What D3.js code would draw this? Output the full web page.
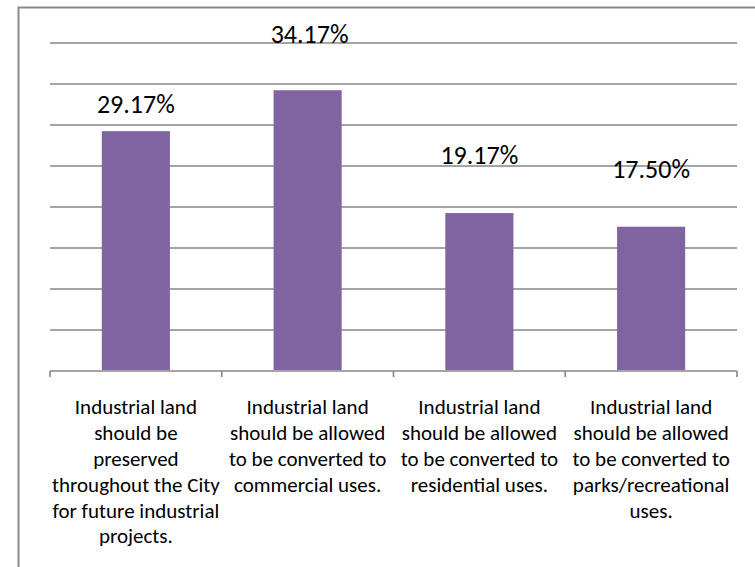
<!DOCTYPE html>
<html>
<head>
<meta charset="utf-8">
<script src="https://cdn.jsdelivr.net/npm/d3@7/dist/d3.min.js"></script>
<style>
  html, body { margin: 0; padding: 0; background: #fff; }
  svg { display: block; }
  text { font-family: Calibri, Carlito, Lato, "Open Sans", sans-serif; fill: #000; }
</style>
</head>
<body>
<svg id="chart" width="755" height="567"></svg>
<script>
// ---- data ----
const categories = [
  ["Industrial land", "should be", "preserved", "throughout the City", "for future industrial", "projects."],
  ["Industrial land", "should be allowed", "to be converted to", "commercial uses."],
  ["Industrial land", "should be allowed", "to be converted to", "residential uses."],
  ["Industrial land", "should be allowed", "to be converted to", "parks/recreational", "uses."]
];
const values = [29.17, 34.17, 19.17, 17.50];
const valueLabels = ["29.17%", "34.17%", "19.17%", "17.50%"];
const yTicks = [0, 5, 10, 15, 20, 25, 30, 35, 40];

// ---- layout ----
const svg = d3.select("#chart");
const margin = { left: 50, right: 18, top: 42.5, bottom: 197 };
const W = 755, H = 567;
const plotW = W - margin.left - margin.right;
const plotH = H - margin.top - margin.bottom;

// chart border (extends beyond the visible window on right/bottom)
svg.append("rect")
  .attr("x", 18.5).attr("y", 7.5)
  .attr("width", 800).attr("height", 600)
  .attr("fill", "none").attr("stroke", "#8a8a8a").attr("stroke-width", 2);

const g = svg.append("g").attr("transform", `translate(${margin.left},${margin.top})`);

const x = d3.scaleBand().domain(d3.range(values.length)).range([0, plotW]).paddingInner(0.6035).paddingOuter(0.30175);
const xOuter = d3.scaleBand().domain(d3.range(values.length)).range([0, plotW]);
const y = d3.scaleLinear().domain([0, 40]).range([plotH, 0]);

// gridlines
g.append("g").selectAll("line").data(yTicks.filter(t => t > 0)).join("line")
  .attr("x1", 0).attr("x2", plotW)
  .attr("y1", d => Math.round(y(d)) + 0.5).attr("y2", d => Math.round(y(d)) + 0.5)
  .attr("stroke", "#868686").attr("stroke-width", 1.3);

// bars
g.append("g").selectAll("rect").data(values).join("rect")
  .attr("x", (d, i) => x(i)).attr("width", x.bandwidth())
  .attr("y", d => y(d)).attr("height", d => plotH - y(d))
  .attr("fill", "#8064A2");

// baseline axis with ticks at category boundaries
const axis = g.append("g").attr("transform", `translate(0,${Math.round(plotH) + 0.5})`);
axis.append("line").attr("x1", 0).attr("x2", plotW).attr("stroke", "#868686").attr("stroke-width", 1.6);
const bounds = d3.range(values.length + 1).map(i => i * xOuter.step());
axis.selectAll("line.tick").data(bounds).join("line").attr("class", "tick")
  .attr("x1", d => d).attr("x2", d => d).attr("y1", 0).attr("y2", 6)
  .attr("stroke", "#868686").attr("stroke-width", 1.6);

// category labels
const lineH = 25.8;
const catG = g.append("g");
categories.forEach((lines, i) => {
  const t = catG.append("text")
    .attr("text-anchor", "middle")
    .attr("font-size", 21)
    .attr("font-weight", 300);
  lines.forEach((ln, j) => {
    t.append("tspan")
      .attr("x", xOuter(i) + xOuter.bandwidth() / 2)
      .attr("y", plotH + 37 + j * lineH)
      .attr("dy", "0.35em")
      .text(ln);
  });
});

// data labels (manually positioned above bars as in the original)
const labelOffsets = [27, 56.5, 58, 57.7];
g.append("g").selectAll("text").data(values).join("text")
  .attr("text-anchor", "middle")
  .attr("font-size", 26)
  .attr("font-weight", 300)
  .attr("x", (d, i) => x(i) + x.bandwidth() / 2 + (i === 1 ? 2 : 0))
  .attr("y", (d, i) => y(d) - labelOffsets[i])
  .attr("dy", "0.35em")
  .text((d, i) => valueLabels[i]);
</script>
</body>
</html>
